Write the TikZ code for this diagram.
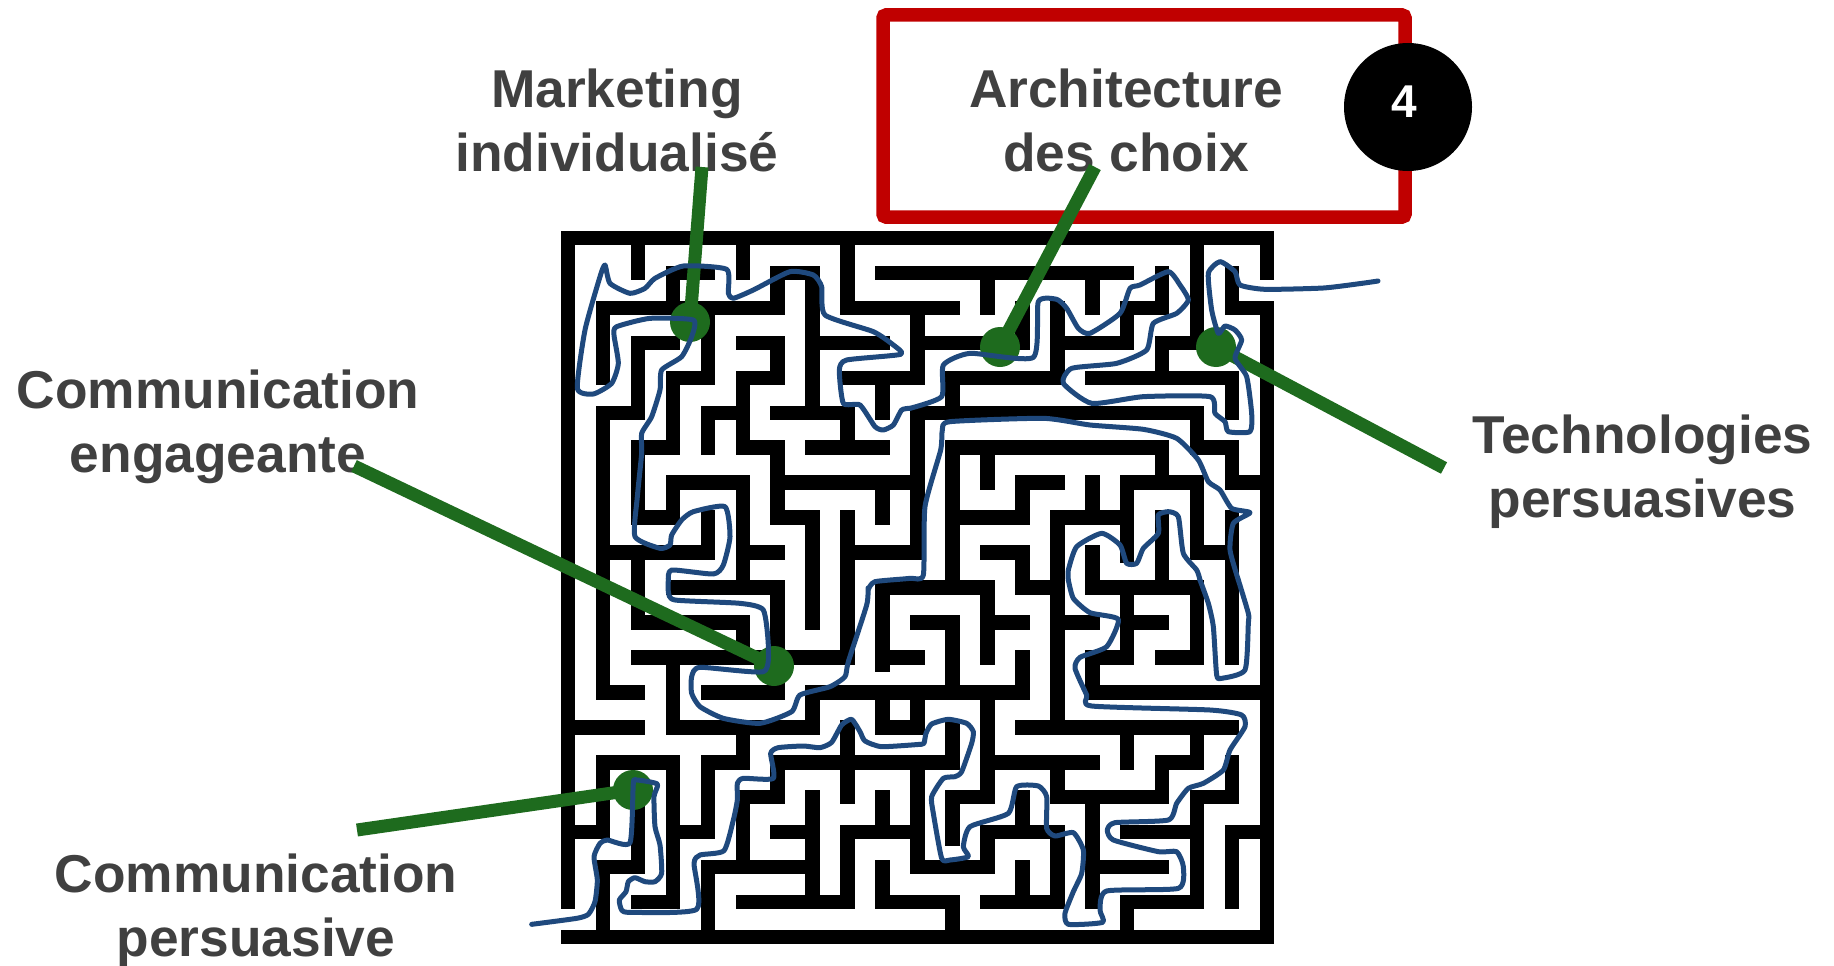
\documentclass[tikz,border=0pt]{standalone}
\usepackage{fontspec}
\setmainfont{Liberation Sans}
\definecolor{lbl}{HTML}{404040}
\definecolor{grn}{HTML}{1E6B1E}
\definecolor{blu}{HTML}{1F497D}
\definecolor{rd}{HTML}{C00000}
\tikzset{
 wall/.style={draw=black,line width=14.5pt,line cap=rect,line join=miter},
 trail/.style={draw=blu,line width=5pt,line cap=round,line join=round},
 lab/.style={text=lbl,inner sep=0pt,align=center,font=\fontsize{53.3}{64}\selectfont\bfseries},
 spot/.style={circle,fill=grn,draw=none,minimum size=40pt,inner sep=0pt},
 link/.style={draw=grn,line width=13pt},
 frameA/.style={shift={(550,220)},x=.33333pt,y=-.33333pt},
 frameB/.style={shift={(910,220)},x=.33333pt,y=-.33333pt},
 frameC/.style={shift={(520,580)},x=.33333pt,y=-.33333pt},
 frameD/.style={shift={(910,580)},x=.33333pt,y=-.33333pt},
}
\begin{document}
\begin{tikzpicture}[x=1pt,y=-1pt]
\useasboundingbox (0,0) rectangle (1834,966);
% maze
\begin{scope}[shift={(568,238)},x=34.95pt,y=-34.95pt]
\draw[wall] (0,19)--(0,0)--(20,0)--(20,1) (20,2)--(20,20)--(0,20)
 (2,0)--(2,1) (5,0)--(5,1) (8,0)--(8,2)--(11,2)
 (4,1)--(3,1)--(3,2)
 (1,4)--(1,2)--(6,2)--(6,1)--(7,1)--(7,5)
 (6,5)--(8,5)--(8,6) (7,6)--(9,6) (7,3)--(9,3) (9,1)--(16,1)
 (3,3)--(2,3)--(2,5)--(1,5)--(1,13)--(2,13)
 (4,2)--(4,4)--(3,4)--(3,6)--(2,6)--(2,8)--(3,8)--(3,7)--(5,7)--(5,10)
 (5,9)--(6,9)
 (3,10)--(6,10)--(6,13)--(4,13)
 (4,8)--(4,9)--(1,9)
 (2,9)--(2,11)--(5,11)--(5,12)
 (5,3)--(6,3)--(6,4)--(5,4)--(5,6)--(6,6)--(6,8)--(7,8)--(7,11)
 (5,5)--(4,5)--(4,6)
 (6,7)--(10,7) (10,5)--(10,9)--(8,9) (9,7)--(9,8)
 (8,8)--(8,12)--(2,12)
 (8,4)--(10,4)--(10,2) (9,4)--(9,5)
 (10,5)--(18,5)--(18,6)--(19,6)--(19,7)--(20,7)
 (11,5)--(11,4)--(14,4)--(14,2)
 (14,3)--(16,3)--(16,2)--(17,2)--(17,1)
 (10,3)--(13,3)--(13,2)
 (12,1)--(12,2) (15,1)--(15,2)
 (18,0)--(18,3)--(17,3)--(17,4) (15,4)--(19,4)--(19,5)
 (19,1)--(19,2)--(20,2)
 (11,10)--(11,6)--(17,6)--(17,7)--(18,7)--(18,9)--(19,9)
 (12,6)--(12,7)
 (11,8)--(13,8)--(13,7)--(14,7)
 (15,7)--(15,8)
 (14,14)--(14,8)--(16,8) (16,7)--(16,9.1) (16,7)--(17,7)
 (15,9)--(15,10)--(18,10)--(18,12)--(17,12)
 (16,10)--(16,12)--(15,12)--(15,13)--(20,13) (16,11)--(17,11)
 (17,8)--(17,10) (19,8)--(19,12)
 (14,10)--(13,10)--(13,9)--(12,9)
 (9,12.2)--(9,10)--(12,10)--(12,12) (9,12)--(10,12)
 (10,11)--(11,11)--(11,13)
 (12,11)--(13,11) (13,12)--(13,13)
 (14,11)--(15,11)
 (7,14)--(7,13)--(13,13)
 (9,13)--(9,14)--(10,14)--(10,13)
 (12,13)--(12,16)--(11,16)--(11,17.2)
 (13,14)--(19,14)
 (12,15)--(15,15)
 (14,15)--(14,16)--(17,16)--(17,15)--(18,15)--(18,14)
 (16,14)--(16,15)
 (19,15)--(19,16)--(18,16)--(18,19)--(16,19)--(16,20)
 (15,16)--(15,19) (15,18)--(17,18) (16,17)--(18,17)
 (19,19)--(19,17)--(20,17)
 (10,15)--(10,18)--(12,18)--(12,17)--(14,17)--(14,19)--(12,19)
 (13,16)--(13,17) (13,18)--(13,19)
 (9,18)--(9,19)--(11,19)--(11,20)
 (11,14)--(11,15) (6,15)--(11,15)
 (8,14)--(8,16)
 (4,17)--(4,15)--(5,15)--(5,14) (3,15)--(1,15)--(1,17)--(0,17)
 (3,14)--(3,12) (3,14)--(7,14)
 (2,19)--(3,19)--(3,15) (3,17)--(4,17)
 (4,20)--(4,18)--(7,18)
 (5,18)--(5,16)--(6,16)--(6,15)
 (7,16)--(7,19) (6,17)--(7,17)
 (5,19)--(8,19)--(8,17)--(10,17) (9,16)--(9,17)
 (2,16)--(2,18)--(1,18)--(1,20)
 (0,14)--(2,14);
\end{scope}
% labels
\node[lab] (mkt) at (617,120) {Marketing\\individualisé};
\node[lab] (arc) at (1126,120) {Architecture\\des choix};
\node[lab] (eng) at (218,427) {Communication\\engageante};
\node[lab] (tec) at (1642.5,472) {Technologies\\persuasives};
\node[lab] (per) at (256,911) {Communication\\persuasive};
% red box and badge
\draw[draw=rd,line width=13.5pt,rounded corners=3pt] (883,15) rectangle (1405,217);
\node[circle,fill=black,minimum size=128pt,inner sep=0pt] (badge) at (1408,107) {};
\node[text=white,inner sep=0pt,font=\fontsize{46}{46}\selectfont\bfseries] (four) at (1404,102) {4};
% spots and links
\node[spot] (s1) at (690,322) {};
\node[spot] (s2) at (1000,347) {};
\node[spot] (s3) at (1216,347) {};
\node[spot] (s4) at (774,666) {};
\node[spot] (s5) at (633,790) {};
\coordinate (e1) at (702,167);
\coordinate (e2) at (1095,167);
\coordinate (e3) at (1444,468);
\coordinate (e4) at (354,466);
\coordinate (e5) at (357,830);
\draw[link] (e1)--(s1.center);
\draw[link] (e2)--(s2.center);
\draw[link] (e3)--(s3.center);
\draw[link] (e4)--(s4.center);
\draw[link] (e5)--(s5.center);
% hand-drawn trail
\begin{scope}[frameC]
\draw[trail] plot[smooth,tension=.35] coordinates {(35,1033)(170,1015)(205,1003)(225,965)(232,900)(222,830)(240,790)(262,780)(330,788)(340,610)(350,600)(412,612)(402,650)(405,740)(420,795)(425,880)(405,905)(375,905)(345,893)(325,905)(318,935)(298,960)(305,990)(330,997)(530,988)(522,850)(540,825)(612,812)(640,720)(652,660)(652,610)(670,595)(760,595)(752,520)(775,503)(850,498)(900,503)(935,487)(965,435)(995,418)(1020,455)(1035,483)(1085,500)(1200,493)};
\end{scope}
\begin{scope}[frameD]
\draw[trail] plot[smooth,tension=.35] coordinates {(30,493)(42,490)(48,460)(65,432)(115,418)(170,430)(190,455)(185,490)(155,575)(135,590)(100,595)(65,650)(70,700)(95,835)(120,840)(175,830)(160,800)(180,740)(295,700)(320,620)(385,618)(410,650)(410,745)(435,768)(490,758)(520,810)(515,880)(490,935)(465,1000)(475,1033)(578,1027)(570,990)(590,933)(805,925)(820,860)(800,815)(745,815)(610,780)(592,750)(615,728)(775,720)(800,670)(835,625)(880,610)(940,570)(960,510)(1005,440)(995,405)(900,390)(545,378)(530,345)(495,265)(510,232)(590,200)(625,118)(540,98)(490,55)(475,0)};
\draw[trail] plot[smooth,tension=.35] coordinates {(870,0)(895,70)(910,140)(920,285)(935,295)(1005,270)(1015,130)(1015,100)(985,0)};
\end{scope}
\begin{scope}[frameB]
\draw[trail] plot[smooth,tension=.35] coordinates {(475,1080)(475,1050)(500,980)(575,940)(630,975)(650,1030)(680,1030)(700,985)(745,940)(745,885)(775,875)(805,890)(820,1000)(860,1050)(870,1080)};
\draw[trail] plot[smooth,tension=.35] coordinates {(985,1080)(960,990)(970,910)(1020,878)(965,865)(930,810)(895,785)(865,720)(800,655)(700,628)(540,615)(400,595)(120,605)(97,630)(92,690)(45,860)(40,1065)(0,1075)(-105,1085)(-125,1108)};
\end{scope}
\begin{scope}[frameC]
\draw[trail] plot[smooth,tension=.35] coordinates {(1044,24)(1040,75)(985,245)(975,290)(930,320)(840,345)(815,395)(720,430)(610,415)(540,380)(515,340)(515,290)(540,262)(730,275)(745,200)(730,90)(660,70)(465,60)(445,35)(445,0)};
\end{scope}
\begin{scope}[frameA]
\draw[trail] plot[smooth,tension=.35] coordinates {(355,1080)(365,1050)(490,1062)(520,1035)(540,950)(525,860)(430,875)(395,900)(365,945)(360,975)(330,985)(255,950)(262,830)(275,700)(275,640)(305,590)(330,510)(335,450)(395,410)(425,350)(430,300)(300,295)(200,320)(192,345)(205,430)(185,490)(130,522)(82,505)(105,330)(150,170)(165,135)(180,190)(240,220)(285,205)(315,175)(400,138)(530,148)(535,220)(550,235)(610,210)(720,155)(790,165)(815,200)(825,285)(970,335)(1030,375)(1052,403)(890,420)(868,450)(880,550)(930,555)(975,620)(1000,630)(1030,615)(1055,570)(1080,565)};
\end{scope}
\begin{scope}[frameB]
\draw[trail] plot[smooth,tension=.35] coordinates {(0,565)(95,530)(100,435)(180,400)(370,412)(385,245)(440,238)(470,265)(505,325)(540,340)(630,280)(660,205)(690,195)(775,155)(810,195)(835,240)(800,280)(730,310)(710,390)(620,430)(485,445)(460,490)(545,550)(700,530)(900,530)(915,580)(945,605)(955,635)(1020,635)(1025,580)(1010,470)(975,415)(995,360)(975,330)(945,318)(925,340)(905,270)(895,160)(930,125)(975,155)(990,195)(1065,208)(1240,204)(1356,190)(1404,183)};
\end{scope}
\end{tikzpicture}
\end{document}
